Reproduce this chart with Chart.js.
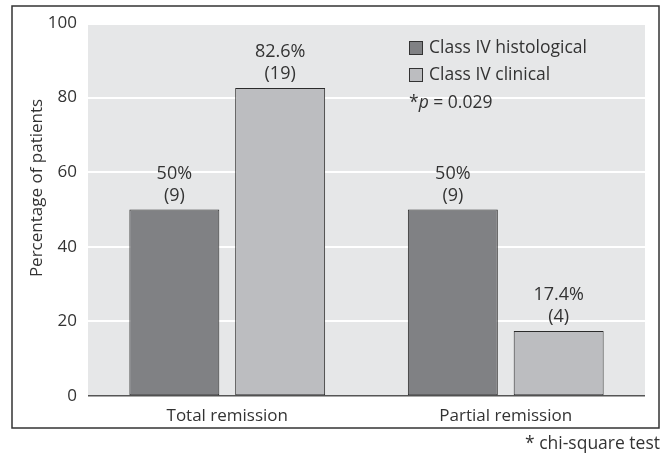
<!DOCTYPE html>
<html>
<head>
<meta charset="utf-8">
<script src="https://cdn.jsdelivr.net/npm/chart.js@4"></script>
<style>
  html, body { margin: 0; padding: 0; background: #fff; }
  #wrap { width: 665px; height: 455px; }
</style>
</head>
<body>
<div id="wrap"><canvas id="chart" width="665" height="455"></canvas></div>
<script>
const categories = ['Total remission', 'Partial remission'];
const seriesNames = ['Class IV histological', 'Class IV clinical'];
const histological = [50, 50];
const clinical = [82.6, 17.4];
const histCounts = [9, 9];
const clinCounts = [19, 4];
const yTicks = [0, 20, 40, 60, 80, 100];
const yTitle = 'Percentage of patients';
const pNote = '0.029';
const footnote = '* chi-square test';

const FONT = '"Open Sans", Lato, sans-serif';
const INK = '#333';
const counts = [histCounts, clinCounts];

// gray panel, outer frame, axis title (sits above centre in the original), footnote
const frame = {
  id: 'frame',
  beforeDraw(chart) {
    const { ctx, chartArea: a } = chart;
    ctx.save();
    ctx.fillStyle = '#e6e7e8';
    ctx.fillRect(a.left, a.top + 2, a.right - a.left, a.bottom - a.top - 2);
    ctx.restore();
  },
  afterDraw(chart) {
    const { ctx } = chart;
    ctx.save();
    ctx.strokeStyle = '#333';
    ctx.lineWidth = 1.5;
    ctx.strokeRect(12, 6, 647, 422);
    ctx.fillStyle = INK;
    ctx.font = '17.5px ' + FONT;
    ctx.textAlign = 'right';
    ctx.textBaseline = 'middle';
    ctx.fillText(footnote, 660, 444);

    ctx.translate(37, 188);
    ctx.rotate(-Math.PI / 2);
    ctx.textAlign = 'center';
    ctx.font = '17px ' + FONT;
    ctx.fillText(yTitle, 0, 0);
    ctx.restore();
  }
};

// value labels over the bars: "50%" / "(9)"
const barLabels = {
  id: 'barLabels',
  afterDatasetsDraw(chart) {
    const { ctx } = chart;
    ctx.save();
    ctx.fillStyle = INK;
    ctx.font = '18px ' + FONT;
    ctx.textAlign = 'center';
    ctx.textBaseline = 'middle';
    chart.data.datasets.forEach((ds, di) => {
      chart.getDatasetMeta(di).data.forEach((bar, i) => {
        ctx.fillText(ds.data[i] + '%', bar.x, bar.y - 36);
        ctx.fillText('(' + counts[di][i] + ')', bar.x, bar.y - 14);
      });
    });
    ctx.restore();
  }
};

// legend box inside the plot, with the p-value note
const innerLegend = {
  id: 'innerLegend',
  afterDraw(chart) {
    const { ctx } = chart;
    const x = 409, y0 = 48, step = 27;
    const f = '17.5px ' + FONT;
    ctx.save();
    ctx.font = f;
    ctx.textBaseline = 'middle';
    ctx.textAlign = 'left';
    chart.data.datasets.forEach((ds, i) => {
      const y = y0 + i * step;
      ctx.fillStyle = ds.backgroundColor;
      ctx.fillRect(x, y - 7, 14, 14);
      ctx.strokeStyle = '#333';
      ctx.lineWidth = 1;
      ctx.strokeRect(x + 0.5, y - 6.5, 13, 13);
      ctx.fillStyle = INK;
      ctx.fillText(ds.label, x + 20, y);
    });
    const y = y0 + 2 * step + 1;
    let cx = x;
    ctx.fillStyle = INK;
    ctx.fillText('*', cx, y);
    cx += ctx.measureText('*').width;
    ctx.font = 'italic ' + f;
    ctx.fillText('p', cx, y);
    cx += ctx.measureText('p').width;
    ctx.font = f;
    ctx.fillText(' = ' + pNote, cx, y);
    ctx.restore();
  }
};

new Chart(document.getElementById('chart'), {
  type: 'bar',
  data: {
    labels: categories,
    datasets: [
      { label: seriesNames[0], data: histological, backgroundColor: '#808184' },
      { label: seriesNames[1], data: clinical, backgroundColor: '#bcbdc0' },
    ].map((d) => ({ ...d, borderColor: '#2b2b2b', borderWidth: 1, borderSkipped: false,
                    categoryPercentage: 0.76, barPercentage: 0.85 })),
  },
  options: {
    responsive: false,
    animation: false,
    layout: { padding: { left: 0, right: 20, top: 23, bottom: 0 } },
    plugins: { legend: { display: false }, tooltip: { enabled: false } },
    scales: {
      x: {
        grid: { display: false },
        border: { display: false },
        ticks: { color: INK, font: { family: FONT, size: 17 }, padding: 2 },
        afterFit: (s) => { s.height = 59; },
      },
      y: {
        min: 0,
        max: 100,
        afterBuildTicks: (s) => { s.ticks = yTicks.map((v) => ({ value: v })); },
        grid: {
          drawTicks: false,
          lineWidth: (c) => (c.tick && c.tick.value === 0 ? 1.5 : 2),
          color: (c) => (c.tick && c.tick.value === 0 ? '#555' : '#fff'),
        },
        border: { display: false },
        ticks: { color: INK, font: { family: FONT, size: 17 }, padding: 11 },
        afterFit: (s) => { s.width = 88; },
      },
    },
  },
  plugins: [frame, barLabels, innerLegend],
});
</script>
</body>
</html>
